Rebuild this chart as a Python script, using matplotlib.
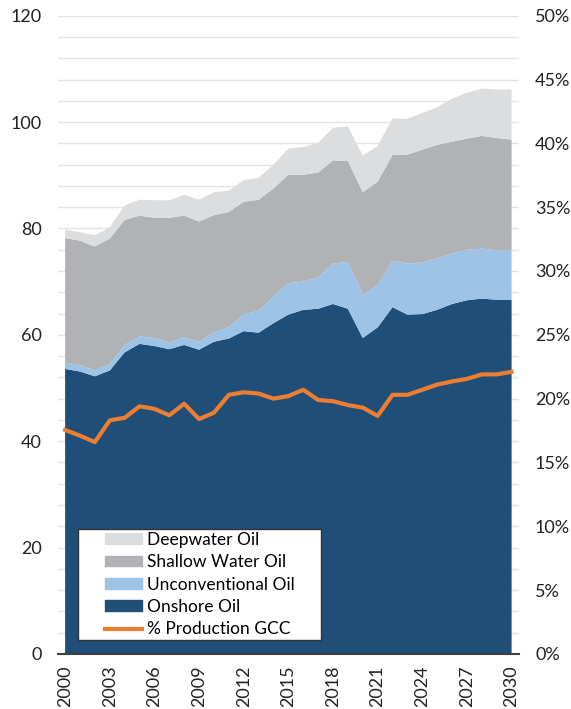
import matplotlib.pyplot as plt
import numpy as np
from matplotlib.ticker import MultipleLocator, PercentFormatter
from matplotlib.patches import Patch, Rectangle
from matplotlib.lines import Line2D

plt.rcParams['font.family'] = ['Lato', 'DejaVu Sans']

# oil production by type (stacked) and GCC share
years = np.arange(2000, 2031)
onshore = np.array([53.6, 53.1, 52.2, 53.3, 56.7, 58.3, 57.9, 57.3, 58.1, 57.2,
                    58.7, 59.3, 60.7, 60.4, 62.2, 63.8, 64.7, 64.9, 65.8, 64.9,
                    59.4, 61.4, 65.2, 63.8, 63.9, 64.7, 65.8, 66.5, 66.8, 66.6, 66.6])
unconv_top = np.array([54.8, 54.3, 53.3, 54.5, 58.1, 59.7, 59.4, 58.6, 59.5, 58.7,
                       60.5, 61.4, 63.9, 64.5, 67.2, 69.7, 70.0, 70.8, 73.4, 73.7,
                       67.5, 69.3, 73.9, 73.4, 73.6, 74.4, 75.3, 76.0, 76.2, 75.9, 75.9])
shallow_top = np.array([78.2, 77.7, 76.6, 78.1, 81.6, 82.4, 82.0, 82.0, 82.4, 81.3,
                        82.5, 83.1, 85.0, 85.4, 87.5, 90.1, 90.1, 90.5, 92.8, 92.7,
                        86.8, 88.8, 93.8, 93.9, 94.8, 95.7, 96.3, 96.9, 97.4, 97.0, 96.7])
deep_top = np.array([79.8, 79.3, 78.7, 80.2, 84.3, 85.4, 85.3, 85.3, 86.3, 85.4,
                     86.8, 87.1, 89.1, 89.5, 92.0, 95.0, 95.3, 96.1, 98.9, 99.2,
                     93.7, 95.5, 100.7, 100.6, 101.7, 102.8, 104.4, 105.5, 106.3, 106.1, 106.1])
unconventional = unconv_top - onshore
shallow = shallow_top - unconv_top
deepwater = deep_top - shallow_top
gcc_share = np.array([17.55, 17.1, 16.6, 18.3, 18.5, 19.4, 19.2, 18.7, 19.6, 18.4,
                      18.9, 20.3, 20.5, 20.4, 20.0, 20.2, 20.7, 19.9, 19.8, 19.5,
                      19.3, 18.65, 20.3, 20.3, 20.7, 21.1, 21.35, 21.55, 21.9, 21.9, 22.1])

c_on = '#1F4E79'
c_un = '#9DC3E6'
c_sh = '#B1B2B5'
c_dp = '#DCDDDE'
c_or = '#ED7D31'

fig = plt.figure(figsize=(5.71, 7.09), dpi=100)
ax = fig.add_axes([0.101, 0.0776, 0.808, 0.9003])

ax.stackplot(years, onshore, unconventional, shallow, deepwater,
             colors=[c_on, c_un, c_sh, c_dp], linewidth=0, zorder=2)
ax.set_xlim(1999.5, 2030.5)
ax.set_ylim(0, 120)
ax.yaxis.set_major_locator(MultipleLocator(20))
ax.yaxis.set_minor_locator(MultipleLocator(4))
ax.grid(True, which='both', axis='y', color='#E4E4E4', linewidth=1, zorder=0)
ax.set_axisbelow(True)
ax.set_xticks(np.arange(2000, 2031, 3))
ax.tick_params(axis='x', labelrotation=90, length=0, labelsize=13, colors='#222222', pad=8.5)
ax.tick_params(axis='y', which='both', length=0, labelsize=13, colors='#222222', pad=11.5)
for s in ['top', 'left', 'right']:
    ax.spines[s].set_visible(False)
ax.spines['bottom'].set_color('#404040')
ax.spines['bottom'].set_linewidth(1.5)
ax.spines['bottom'].set_zorder(5)

ax2 = ax.twinx()
ax2.plot(years, gcc_share / 100, color=c_or, linewidth=3, zorder=3)
ax2.set_ylim(0, 0.5)
ax2.yaxis.set_major_locator(MultipleLocator(0.05))
ax2.yaxis.set_major_formatter(PercentFormatter(1.0, decimals=0))
ax2.tick_params(axis='y', length=0, labelsize=13, colors='#222222', pad=11.5)
for s in ['top', 'left', 'right', 'bottom']:
    ax2.spines[s].set_visible(False)

# legend box drawn by hand (extra room on the left like the original)
ax2.add_patch(Rectangle((0.0447, 0.0219), 0.5261, 0.1735, transform=ax2.transAxes,
                        facecolor='white', edgecolor='#333333', linewidth=1, zorder=10))
handles = [Patch(color=c_dp, label='Deepwater Oil'),
           Patch(color=c_sh, label='Shallow Water Oil'),
           Patch(color=c_un, label='Unconventional Oil'),
           Patch(color=c_on, label='Onshore Oil'),
           Line2D([0], [0], color=c_or, linewidth=3, label='% Production GCC')]
leg = ax2.legend(handles=handles, loc='center left', bbox_to_anchor=(0.1025, 0.1087),
                 borderaxespad=0, borderpad=0, fontsize=12.5, frameon=False,
                 handlelength=2.11, handleheight=0.58, handletextpad=0.32,
                 labelspacing=0.37)
leg.set_zorder(11)

fig.savefig('out.png', dpi=100)
